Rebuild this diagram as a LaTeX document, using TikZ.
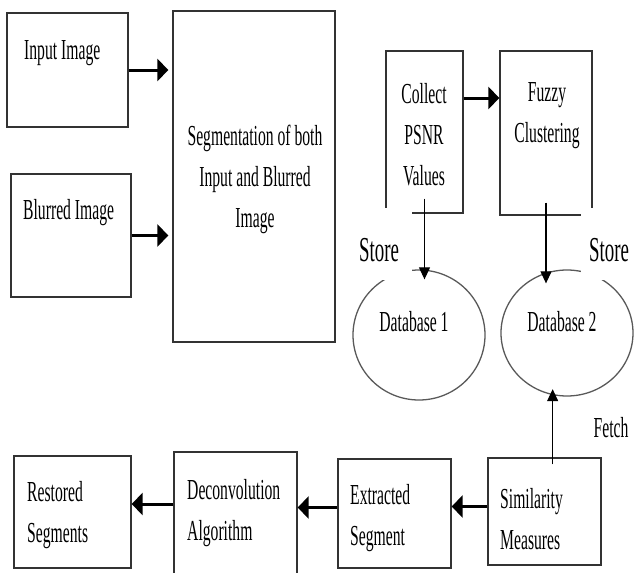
\documentclass[tikz,border=0pt]{standalone}
\usepackage{fontspec}
\setmainfont{Liberation Serif}[FakeStretch=0.54]
\usepackage{tikz}
\usetikzlibrary{arrows.meta,shapes.geometric}

\begin{document}
\begin{tikzpicture}[x=1pt, y=-1pt,
        box/.style={draw=black!80, line width=1.3pt, inner sep=0pt},
        txt/.style={inner sep=0pt, font=\fontsize{29}{41}\selectfont},
        storelbl/.style={fill=white, inner sep=0pt, text width=#1, align=center,
                         text height=53pt, text depth=19pt, font=\fontsize{35}{38}\selectfont},
        bigarrow/.style={line width=3pt, -{Triangle[length=11pt,width=22pt]}},
        thinarrow/.style={line width=1.1pt, -{Triangle[length=12pt,width=11pt]}}]
        \useasboundingbox (0,0) rectangle (635,573);                                       %
        % boxes
        \node [box, minimum width=121, minimum height=114] (input)   at (67.5,70)    {};   %Input
        \node [box, minimum width=120, minimum height=123] (blurred) at (71,235.5)   {};   %Blurred
        \node [box, minimum width=162, minimum height=331] (seg)     at (254,176.5)  {};   %Segmentation
        \node [box, minimum width=77,  minimum height=162] (collect) at (424.5,132)  {};   %PSNR
        \node [box, minimum width=92,  minimum height=164] (fuzzy)   at (546,133)    {};   %Fuzzy
        \node [box, draw=black!65, ellipse, minimum width=132, minimum height=130] (db1) at (419,335) {};
        \node [box, draw=black!65, ellipse, minimum width=132, minimum height=126] (db2) at (567,333) {};
        \node [box, minimum width=117, minimum height=112] (restored) at (72.5,512)  {};   %
        \node [box, minimum width=123, minimum height=124] (deconv)   at (235.5,514) {};   %
        \node [box, minimum width=113, minimum height=109] (extr)     at (394.5,513.5) {}; %
        \node [box, minimum width=113, minimum height=107] (sim)      at (544.5,511.5) {}; %
        % store labels (white, over the corners)
        \node [storelbl=66pt, anchor=base] (storeL) at (379,261) {Store};                  %
        \node [storelbl=56pt, anchor=base] (storeR) at (609,261) {Store};                  %
        % texts
        \node [txt, anchor=base west] (t-input)   at (24,59)   {Input Image};               %
        \node [txt, anchor=base west] (t-blurred) at (23,219)  {Blurred Image};             %
        \node [txt, align=center]     (t-seg)     at (255,179) {Segmentation of both\\Input and Blurred\\Image};
        \node [txt, align=center]     (t-collect) at (424,135) {Collect\\PSNR\\Values};     %
        \node [txt, align=center]     (t-fuzzy)   at (547,116) {Fuzzy\\Clustering};         %
        \node [txt]                   (t-db1)     at (414,322) {Database 1};                %
        \node [txt]                   (t-db2)     at (562,322) {Database 2};                %
        \node [txt]                   (fetch)     at (611,428) {Fetch};                     %
        \node [txt, align=left, anchor=west] (t-restored) at (27,515)  {Restored\\Segments};
        \node [txt, align=left, anchor=west] (t-deconv)   at (187,513) {Deconvolution\\Algorithm};
        \node [txt, align=left, anchor=west] (t-extr)     at (350,518) {Extracted\\Segment};
        \node [txt, align=left, anchor=west] (t-sim)      at (500,519) {Similarity\\Measures};
        % arrows
        \draw [bigarrow, shorten >=4pt] (input.east) -- (input.east -| seg.west);          %
        \draw [bigarrow, shorten >=4pt] (blurred.east) -- (blurred.east -| seg.west);      %
        \draw [bigarrow] ([yshift=34pt]collect.east) -- ([yshift=34pt]collect.east -| fuzzy.west);
        \draw [thinarrow] ([yshift=15pt]collect.south) -- ([yshift=-10pt]collect.south |- db1.north);
        \draw [thinarrow] ([yshift=13pt]fuzzy.south) -- ([yshift=-14pt]fuzzy.south |- db2.north);
        \draw [thinarrow, shorten >=-6pt] ([yshift=-7pt]sim.north -| db2.257) -- (db2.257); %Fetch
        \draw [bigarrow] ([yshift=5pt]sim.west) -- ([yshift=5pt]sim.west -| extr.east);     %
        \draw [bigarrow] ([yshift=6pt]extr.west) -- ([yshift=6pt]extr.west -| deconv.east); %
        \draw [bigarrow] ([yshift=10pt]deconv.west) -- ([yshift=10pt]deconv.west -| restored.east);
\end{tikzpicture}
\end{document}
